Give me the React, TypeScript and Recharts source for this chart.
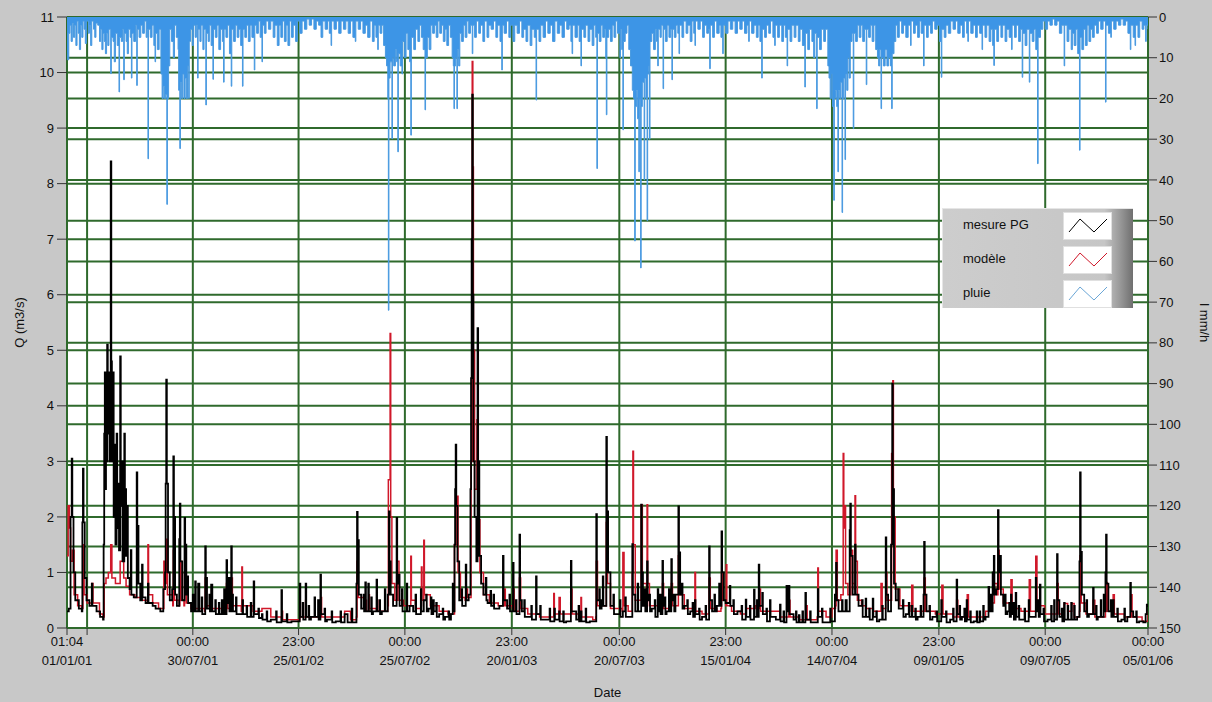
import { ComposedChart, Line, Area, XAxis, YAxis, CartesianGrid, Legend } from "recharts"

// x axis is in days since 01/01/01 01:04
const xTicks = [0, 34, 213, 392, 572, 753, 935, 1115, 1295, 1476, 1656, 1830]
const xTimes = ["01:04", "", "00:00", "23:00", "00:00", "23:00", "00:00", "23:00", "00:00", "23:00", "00:00", "00:00"]
const xDates = ["01/01/01", "", "30/07/01", "25/01/02", "25/07/02", "20/01/03", "20/07/03", "15/01/04", "14/07/04", "09/01/05", "09/07/05", "05/01/06"]
const qTicks = [0, 1, 2, 3, 4, 5, 6, 7, 8, 9, 10, 11]
const iTicks = [0, 10, 20, 30, 40, 50, 60, 70, 80, 90, 100, 110, 120, 130, 140, 150]

// débit mesuré (m3/s)
const mesurePG: [number, number][] = [
  [0, 0.3], [3, 0.35], [6, 2.0], [8, 3.05], [9, 2.0], [11, 1.0], [14, 0.5], [20, 0.35], [25, 0.3], [26, 1.9], [27, 2.87], [28, 1.9], [30, 0.9], [33, 0.5], [38, 0.4], [42, 0.8], [43, 0.4], [50, 0.3], [56, 0.2], [61, 0.15],
  [62, 1.5], [63, 3.5], [64, 4.6], [65, 2.5], [66, 4.6], [67, 3.0], [68, 5.1], [69, 3.5], [71, 4.6], [72, 3.0], [74, 8.4], [75, 4.8], [76, 3.0], [78, 4.6], [79, 2.0], [81, 3.3], [82, 1.5], [84, 3.5], [85, 1.8], [87, 2.6], [88, 1.4], [90, 4.89], [91, 2.2], [93, 3.0], [94, 1.2], [97, 3.5], [98, 2.5], [100, 1.3], [102, 2.2], [103, 0.9],
  [106, 0.7], [108, 1.4], [109, 0.6], [113, 0.55], [118, 2.8], [119, 1.84], [121, 0.8], [124, 0.5], [127, 1.14], [128, 0.55], [133, 0.45], [137, 0.8], [138, 0.45], [145, 0.4], [150, 0.35], [158, 0.3], [163, 0.7], [166, 1.0], [167, 2.6], [168, 4.47], [169, 2.6], [171, 1.0], [174, 0.5], [178, 0.7], [180, 3.09], [181, 2.0], [183, 0.6], [186, 0.4], [190, 1.6], [191, 2.24], [192, 1.2], [195, 0.5], [199, 1.98], [200, 1.5], [202, 0.6], [204, 0.93], [205, 0.45], [210, 0.3], [213, 0.6], [214, 0.3], [217, 0.84], [218, 0.3], [222, 0.8], [224, 0.3], [228, 0.55], [229, 0.25], [234, 1.47], [235, 0.9], [237, 0.35], [241, 0.6], [242, 0.3], [244, 0.78], [246, 0.3], [251, 0.5], [252, 0.25], [257, 0.45], [258, 0.25], [262, 0.5], [263, 0.25], [266, 0.7], [267, 0.25], [270, 1.22], [271, 0.45], [274, 0.9], [275, 0.3], [278, 1.47], [279, 0.6], [281, 0.3], [286, 0.55], [287, 0.25], [290, 0.25], [297, 0.5], [298, 0.25], [304, 0.4], [305, 0.2], [311, 0.45], [312, 0.2], [316, 0.84], [317, 0.25], [324, 0.35], [325, 0.18], [330, 0.25], [331, 0.15], [338, 0.3], [339, 0.12], [345, 0.15], [354, 0.3], [355, 0.1], [363, 0.68], [364, 0.12], [372, 0.25], [373, 0.1], [380, 0.12],
  [394, 0.8], [395, 0.2], [399, 0.45], [400, 0.15], [404, 0.8], [405, 0.2], [409, 0.4], [410, 0.15], [413, 0.2], [419, 0.55], [420, 0.2], [425, 0.5], [426, 0.15], [429, 0.96], [430, 0.25], [436, 0.35], [437, 0.12], [440, 0.15], [448, 0.3], [449, 0.1], [455, 0.12], [463, 0.3], [464, 0.1], [470, 0.25], [475, 0.1], [482, 0.35], [483, 0.1], [490, 0.8], [491, 2.09], [492, 1.58], [494, 0.6], [498, 0.35], [502, 0.6], [503, 0.3], [505, 0.82], [506, 0.3], [510, 0.8], [511, 0.3], [515, 0.55], [516, 0.25], [518, 0.3], [524, 0.87], [525, 0.3], [529, 0.5], [530, 0.25], [533, 0.3], [538, 0.7], [539, 0.3], [543, 0.6], [545, 2.1], [546, 1.2], [548, 0.6], [552, 0.4], [558, 1.98], [559, 0.8], [561, 0.96], [563, 0.4], [567, 0.7], [568, 0.3], [570, 0.3], [575, 0.8], [576, 0.3], [580, 0.4], [586, 0.3], [590, 0.6], [591, 0.25], [595, 0.25], [599, 0.7], [600, 0.3],
  [604, 0.5], [608, 0.6], [609, 0.3], [612, 0.35], [616, 0.55], [617, 0.25], [620, 0.5], [621, 0.3], [625, 0.45], [626, 0.2], [630, 0.25], [636, 0.35], [637, 0.15], [640, 0.2], [646, 0.3], [647, 0.15], [650, 0.25], [653, 0.8], [654, 0.3], [656, 1.5], [657, 2.5], [658, 3.3], [659, 2.2], [661, 1.2], [664, 0.5], [668, 0.7], [669, 0.4], [672, 0.4], [675, 1.14], [676, 0.5], [680, 0.6], [683, 2.5], [684, 4.5], [685, 7.0], [686, 9.6], [687, 6.0], [688, 3.0], [690, 2.0], [693, 1.2], [695, 5.4], [696, 3.0], [698, 1.3], [701, 0.8], [705, 0.6], [709, 0.9], [710, 0.5], [712, 0.45], [717, 0.67], [718, 0.4], [722, 0.6], [723, 0.35], [725, 0.35], [732, 0.4], [738, 1.3], [739, 0.5], [745, 0.35], [749, 0.6], [750, 0.3], [755, 1.17], [756, 0.3], [760, 0.5], [761, 0.25], [766, 1.68], [767, 0.5], [770, 0.3], [774, 0.5], [775, 0.2], [780, 0.2], [786, 0.4], [787, 0.15], [794, 0.93], [795, 0.25], [801, 0.4], [802, 0.15], [810, 0.15], [817, 0.35], [818, 0.12], [825, 0.35], [826, 0.15], [833, 0.3], [834, 0.12], [840, 0.3], [841, 0.1], [845, 0.12], [853, 1.21], [854, 0.3], [862, 0.15], [866, 0.4], [867, 0.12], [870, 0.3], [871, 0.12], [878, 0.35], [879, 0.1], [885, 0.12],
  [896, 2.05], [897, 0.5], [901, 0.7], [902, 0.35], [905, 0.5], [907, 0.93], [908, 0.4], [913, 3.44], [914, 2.1], [916, 1.0], [920, 0.4], [925, 0.6], [926, 0.25], [930, 0.25], [936, 0.5], [937, 0.2], [941, 0.3], [945, 0.55], [946, 0.2], [950, 0.2], [957, 1.51], [958, 0.6], [962, 0.3], [966, 0.8], [967, 0.3], [972, 2.22], [973, 1.0], [975, 0.4], [978, 0.7], [979, 0.3], [982, 1.2], [983, 0.5], [986, 0.6], [987, 0.3], [990, 0.35], [995, 0.5], [996, 0.2], [1000, 0.7], [1001, 0.3], [1004, 0.6], [1005, 0.25], [1008, 1.21], [1009, 0.4], [1012, 0.55], [1013, 0.25], [1015, 0.3], [1019, 0.7], [1020, 0.3], [1023, 1.24], [1024, 0.5], [1027, 0.6], [1028, 0.3], [1030, 0.6], [1035, 2.19], [1036, 1.36], [1038, 0.6], [1041, 0.8], [1042, 0.35], [1045, 0.4], [1050, 0.5], [1051, 0.25], [1055, 0.3], [1059, 0.45], [1060, 0.2], [1063, 0.5], [1064, 0.25], [1070, 0.35], [1071, 0.15], [1075, 0.2], [1081, 0.4], [1082, 0.15], [1087, 1.47], [1088, 0.5], [1092, 0.3], [1096, 0.6], [1097, 0.3], [1100, 0.4], [1104, 0.8], [1105, 0.4], [1108, 1.74], [1109, 1.0], [1112, 0.5], [1115, 0.45], [1122, 0.76], [1123, 0.4], [1128, 0.5], [1129, 0.25], [1135, 0.3], [1142, 0.4], [1143, 0.15], [1149, 0.51], [1150, 0.2], [1156, 0.4], [1157, 0.15], [1163, 0.69], [1164, 0.2], [1168, 0.5], [1169, 0.2], [1171, 1.14], [1172, 0.4], [1177, 0.63], [1178, 0.25], [1184, 0.35], [1185, 0.12], [1190, 0.5], [1191, 0.2], [1200, 0.15], [1207, 0.42], [1208, 0.12],
  [1213, 0.3], [1214, 0.1], [1218, 0.76], [1219, 0.3], [1222, 0.76], [1223, 0.25], [1230, 0.15], [1234, 0.3], [1235, 0.1], [1239, 0.23], [1240, 0.1], [1245, 0.3], [1246, 0.1], [1250, 0.63], [1251, 0.15], [1258, 0.3], [1259, 0.1], [1265, 0.1], [1271, 0.7], [1272, 0.2], [1278, 0.35], [1279, 0.1], [1285, 0.1], [1292, 0.35], [1293, 0.12], [1300, 0.6], [1302, 1.17], [1303, 0.5], [1306, 0.3], [1312, 0.5], [1313, 0.3], [1318, 0.5], [1320, 0.3], [1325, 1.76], [1326, 2.24], [1327, 1.3], [1330, 0.6], [1334, 1.5], [1335, 0.6], [1340, 0.4], [1346, 0.5], [1347, 0.2], [1352, 0.53], [1353, 0.2], [1358, 0.35], [1359, 0.15], [1364, 0.53], [1365, 0.2], [1370, 0.3], [1371, 0.12], [1375, 0.15], [1380, 0.4], [1381, 0.15], [1386, 1.63], [1387, 0.6], [1390, 0.3], [1395, 1.5], [1397, 4.4], [1398, 2.5], [1400, 0.8], [1403, 0.5], [1407, 0.7], [1408, 0.35], [1410, 0.35], [1415, 0.5], [1416, 0.2], [1420, 0.25], [1425, 0.45], [1426, 0.2], [1430, 0.4], [1431, 0.2], [1436, 0.35], [1437, 0.15], [1440, 0.2], [1445, 0.4], [1446, 0.2], [1450, 0.6], [1451, 1.55], [1452, 0.6], [1455, 0.3], [1460, 0.4], [1461, 0.15], [1465, 0.2], [1472, 0.3], [1473, 0.12], [1480, 0.5], [1481, 0.2], [1488, 0.3], [1489, 0.1], [1495, 0.15],
  [1500, 0.35], [1501, 0.12], [1506, 0.87], [1507, 0.25], [1511, 0.4], [1512, 0.15], [1515, 0.2], [1519, 0.35], [1520, 0.12], [1523, 0.5], [1524, 0.15], [1529, 0.3], [1530, 0.1], [1535, 0.12], [1540, 0.3], [1541, 0.1], [1545, 0.3], [1546, 0.12], [1551, 0.4], [1552, 0.15], [1555, 0.2], [1560, 0.74], [1561, 0.3], [1564, 0.6], [1565, 0.3], [1567, 1.0], [1569, 1.3], [1570, 0.6], [1573, 0.7], [1576, 2.12], [1577, 1.0], [1580, 1.3], [1581, 0.6], [1585, 0.4], [1588, 0.6], [1589, 0.25], [1592, 0.3], [1595, 0.45], [1596, 0.2], [1598, 0.6], [1599, 0.25], [1602, 0.45], [1603, 0.15], [1606, 0.63], [1607, 0.2], [1611, 0.4], [1612, 0.15], [1615, 0.15], [1621, 0.35], [1622, 0.12], [1628, 0.5], [1629, 0.2], [1635, 0.2], [1640, 0.9], [1641, 0.3], [1644, 0.5], [1645, 0.2], [1647, 0.78], [1648, 0.25], [1653, 0.35], [1654, 0.12], [1660, 0.15], [1666, 0.4], [1667, 0.12], [1671, 0.5], [1672, 0.15], [1676, 1.33], [1677, 0.5], [1680, 0.2], [1684, 0.35], [1685, 0.12], [1688, 0.45], [1689, 0.15], [1694, 0.4], [1695, 0.15], [1700, 0.45], [1701, 0.15], [1705, 0.4], [1706, 0.15], [1710, 0.2], [1714, 1.2], [1715, 2.8], [1716, 1.37], [1718, 0.6], [1722, 0.3], [1726, 0.5], [1727, 0.2], [1730, 0.25], [1737, 0.72], [1738, 0.25], [1742, 0.4], [1743, 0.15], [1745, 0.2], [1750, 0.5], [1751, 0.2], [1755, 0.6], [1756, 0.3], [1758, 1.0], [1759, 1.68], [1760, 0.8], [1763, 0.3], [1767, 0.5], [1768, 0.2], [1771, 0.5], [1772, 0.2], [1778, 0.35], [1779, 0.12], [1785, 0.15], [1790, 0.35], [1791, 0.12], [1795, 0.2], [1800, 0.81], [1801, 0.3], [1805, 0.2], [1810, 0.3], [1811, 0.1], [1815, 0.12], [1822, 0.1], [1826, 0.25], [1828, 0.42], [1830, 0.38],
]

// débit simulé (m3/s)
const modele: [number, number][] = [
  [0, 1.3], [2, 2.2], [4, 1.8], [6, 1.2], [9, 1.4], [12, 0.6], [18, 0.4], [25, 0.35], [27, 1.5], [29, 0.6], [34, 0.45], [42, 0.8], [44, 0.45], [55, 0.25], [61, 0.2], [63, 0.8], [66, 0.9], [70, 1.0], [74, 1.5], [76, 0.9], [82, 0.8], [90, 1.2], [96, 0.9], [100, 0.75], [106, 0.6], [115, 0.55], [125, 0.5], [136, 0.45], [137, 1.5], [138, 0.6], [145, 0.45], [155, 0.35], [163, 0.35], [164, 1.2], [166, 0.8], [168, 1.6], [170, 0.6], [179, 0.4], [180, 1.4], [182, 0.5], [190, 0.4], [191, 1.2], [193, 0.5], [198, 0.4], [199, 1.0], [202, 0.45], [210, 0.35], [233, 0.3], [234, 0.9], [236, 0.4], [245, 0.35], [269, 0.3], [270, 0.8], [272, 0.35], [277, 0.3], [278, 0.9], [280, 0.4], [295, 0.3], [296, 1.1], [297, 0.4], [315, 0.3], [316, 0.5], [317, 0.3], [330, 0.35], [345, 0.2], [363, 0.15], [364, 0.3], [365, 0.15], [380, 0.15],
  [393, 0.15], [394, 0.45], [395, 0.2], [403, 0.2], [404, 0.5], [405, 0.2], [420, 0.2], [429, 0.2], [430, 0.55], [431, 0.2], [440, 0.2], [470, 0.3], [480, 0.15], [490, 0.2], [491, 1.2], [493, 0.55], [505, 0.3], [506, 0.5], [507, 0.3], [511, 0.6], [512, 0.35], [524, 0.3], [525, 0.5], [526, 0.3], [535, 0.3], [543, 0.4], [544, 2.67], [547, 5.3], [548, 2.0], [550, 0.8], [555, 0.5], [558, 0.5], [559, 1.2], [562, 0.5], [570, 0.4], [581, 0.4], [582, 1.29], [583, 0.5], [590, 0.35], [599, 0.4], [600, 1.1], [601, 0.5], [604, 1.58], [605, 0.6], [615, 0.4], [630, 0.3], [645, 0.25], [656, 1.5], [660, 2.37], [662, 1.0], [666, 0.55], [674, 0.5], [675, 0.7], [678, 0.55], [684, 3.0], [686, 10.2], [687, 8.3], [688, 5.0], [690, 2.5], [694, 3.75], [696, 1.95], [699, 1.0], [705, 0.6], [715, 0.45], [730, 0.4], [739, 0.4], [740, 0.7], [742, 0.4], [754, 0.35], [755, 0.7], [757, 0.3], [765, 0.3], [766, 0.9], [768, 0.35], [780, 0.25], [800, 0.2], [823, 0.2], [824, 0.62], [825, 0.25], [832, 0.25], [833, 0.55], [835, 0.25], [852, 0.25], [853, 0.7], [855, 0.25], [869, 0.2], [870, 0.55], [871, 0.2], [890, 0.15],
  [895, 0.2], [896, 1.2], [898, 0.4], [912, 0.4], [913, 1.9], [915, 0.8], [920, 0.35], [940, 0.3], [941, 1.36], [943, 0.4], [950, 0.3], [957, 1.0], [958, 3.18], [959, 1.5], [962, 0.5], [971, 0.5], [972, 2.22], [974, 0.8], [981, 0.6], [982, 2.22], [983, 0.8], [986, 0.4], [1000, 0.4], [1007, 0.35], [1008, 0.8], [1010, 0.35], [1022, 0.4], [1023, 0.8], [1025, 0.4], [1034, 0.4], [1035, 1.3], [1037, 0.6], [1045, 0.35], [1062, 0.3], [1063, 1.0], [1064, 0.3], [1075, 0.25], [1086, 0.25], [1087, 0.9], [1089, 0.35], [1100, 0.3], [1107, 0.35], [1108, 1.0], [1110, 0.5], [1115, 0.4], [1116, 1.14], [1117, 0.4], [1125, 0.3], [1140, 0.25], [1150, 0.35], [1165, 0.4], [1171, 0.35], [1172, 0.7], [1174, 0.3], [1190, 0.3], [1207, 0.2], [1221, 0.2], [1222, 0.5], [1224, 0.2], [1240, 0.15], [1250, 0.15], [1251, 0.4], [1253, 0.15], [1270, 0.2], [1271, 1.08], [1272, 0.3], [1285, 0.2], [1295, 0.35],
  [1301, 0.4], [1302, 1.4], [1304, 0.5], [1310, 0.6], [1313, 0.6], [1314, 3.14], [1315, 1.8], [1316, 2.2], [1318, 0.8], [1322, 0.6], [1326, 0.6], [1327, 1.4], [1330, 0.8], [1333, 0.7], [1334, 2.38], [1335, 1.2], [1338, 0.5], [1345, 0.4], [1353, 0.35], [1365, 0.3], [1377, 0.3], [1378, 0.8], [1380, 0.35], [1385, 0.35], [1386, 1.0], [1388, 0.5], [1395, 0.5], [1396, 3.14], [1398, 4.45], [1399, 2.0], [1402, 0.7], [1410, 0.4], [1429, 0.3], [1430, 0.77], [1432, 0.3], [1450, 0.3], [1451, 0.9], [1453, 0.3], [1470, 0.25], [1480, 0.25], [1481, 0.77], [1483, 0.25], [1500, 0.2], [1505, 0.2], [1506, 0.5], [1508, 0.2], [1523, 0.2], [1524, 0.6], [1526, 0.2], [1545, 0.2], [1555, 0.3], [1562, 0.45], [1570, 0.8], [1575, 0.6], [1576, 1.4], [1578, 0.7], [1585, 0.45], [1597, 0.35], [1598, 0.87], [1600, 0.35], [1615, 0.3], [1628, 0.3], [1629, 0.87], [1631, 0.3], [1639, 0.3], [1640, 1.29], [1642, 0.4], [1655, 0.25], [1675, 0.25], [1676, 0.8], [1678, 0.25], [1687, 0.25], [1688, 0.44], [1694, 0.3], [1700, 0.3], [1701, 0.44], [1705, 0.2], [1714, 0.3], [1715, 1.3], [1717, 0.45], [1725, 0.25], [1736, 0.25], [1737, 0.5], [1740, 0.2], [1758, 0.3], [1759, 0.82], [1761, 0.3], [1770, 0.25], [1771, 0.6], [1773, 0.25], [1790, 0.2], [1800, 0.2], [1801, 0.6], [1803, 0.2], [1820, 0.12], [1830, 0.3],
]

// pluie (mm/h), axe de droite inversé
const pluie: [number, number][] = [
  [0, 9], [1, 10.5], [3, 4], [5, 2], [7, 6], [9, 1.5], [11, 5], [13, 2], [15, 7], [17, 1], [19, 4], [21, 8], [23, 2], [25, 5], [27, 1], [29, 3], [31, 6.5], [33, 1], [36, 4], [38, 2], [40, 7], [42, 1], [45, 3], [47, 5], [49, 1.5], [52, 2], [55, 6], [57, 3], [59, 8], [61, 4], [63, 6], [65, 9], [67, 4], [69, 7], [71, 3], [74, 13.9], [75, 5], [78, 6], [80, 11], [82, 4], [85, 7], [88, 18.4], [89, 5], [92, 6], [94, 3], [96, 15.4], [97, 4], [100, 6], [102, 9], [104, 3], [107, 5], [109, 15], [110, 4], [113, 6], [116, 2], [118, 16.8], [119, 3], [122, 5], [125, 2], [128, 4], [131, 1], [134, 5],
  [136, 3], [137, 34.8], [138, 3], [141, 5], [144, 2], [147, 7], [149, 11], [150, 4], [153, 8], [156, 3], [159, 14], [161, 20], [163, 17], [165, 20], [167, 19], [169, 46], [170, 20], [172, 12], [174, 3], [177, 6], [180, 10], [182, 2], [185, 5], [188, 8], [189, 18], [191, 32.3], [192, 16], [194, 20], [196, 14], [198, 20], [200, 15], [202, 20], [204, 12], [206, 20], [207, 6], [209, 3],
  [212, 7], [214, 2], [217, 5], [219, 2], [221, 15], [222, 3], [225, 6], [227, 2], [230, 8], [232, 3], [235, 21.6], [236, 4], [239, 6], [241, 2], [244, 7], [247, 15.3], [248, 3], [251, 5], [254, 2], [257, 8], [260, 3], [263, 6], [265, 16], [266, 3], [269, 5], [272, 2], [275, 9], [278, 17], [279, 3], [282, 6], [285, 2], [288, 5], [291, 3], [294, 7], [297, 17], [298, 3], [301, 5], [304, 2], [307, 6], [310, 2], [313, 5], [317, 13], [318, 2], [321, 4], [324, 1], [327, 5], [330, 11], [331, 2], [334, 4], [337, 1],
  [341, 3], [345, 1], [349, 5], [352, 2], [356, 7], [359, 2], [362, 5], [365, 1], [368, 6], [371, 2], [374, 7], [377, 1], [380, 5], [383, 2], [387, 6], [390, 1], [394, 4], [398, 1], [402, 3], [406, 0.5], [410, 2], [414, 0.5], [418, 3], [422, 1], [426, 2], [430, 5], [433, 1], [437, 3], [441, 1], [444, 4], [447, 7], [448, 1], [452, 3], [456, 1], [460, 4], [464, 1], [468, 3], [472, 1], [476, 4], [480, 1], [484, 5], [488, 6], [489, 1], [493, 3], [497, 1], [501, 4], [505, 2], [509, 5], [513, 1], [517, 6], [520, 2], [523, 5], [526, 8], [527, 2], [530, 4], [533, 2], [536, 7], [539, 10],
  [541, 12], [543, 20], [544, 72], [545, 15], [547, 11], [550, 29.9], [551, 10], [553, 12], [556, 8], [558, 11], [560, 33.1], [561, 9], [564, 12], [567, 14], [568, 6], [571, 10], [574, 4], [577, 8], [580, 11], [582, 29], [583, 5], [587, 8], [590, 3], [594, 6], [597, 2], [600, 5], [603, 8], [606, 22.8], [607, 10], [610, 5], [613, 8], [616, 2], [619, 4],
  [622, 2], [625, 5], [628, 1], [631, 4], [634, 2], [637, 6], [640, 3], [643, 7], [646, 2], [649, 5], [652, 10], [654, 12], [655, 22.5], [656, 12], [658, 10], [660, 22.5], [661, 8], [663, 12], [665, 4], [668, 6], [671, 2], [674, 5], [677, 1], [680, 4], [683, 2], [686, 9], [687, 2], [690, 5], [693, 1], [697, 4], [700, 2], [704, 6], [707, 1], [711, 5], [714, 2], [718, 3], [722, 1], [726, 5], [729, 2], [733, 6], [736, 13], [737, 2], [740, 4], [744, 1], [748, 5], [751, 2], [755, 6], [758, 2], [762, 4], [766, 1], [770, 5], [773, 3], [777, 6], [780, 2], [784, 7], [787, 3], [791, 5], [794, 20.4], [795, 3], [799, 6], [802, 2], [806, 5], [810, 1], [814, 4], [818, 2], [822, 6], [826, 1], [830, 4], [834, 2], [838, 5], [842, 1], [846, 3], [850, 2], [853, 6], [855, 9], [856, 2], [860, 5], [864, 2], [867, 6], [870, 12], [871, 3], [875, 5], [878, 2], [882, 6], [885, 3], [889, 7], [892, 2], [895, 5], [897, 37.2], [898, 4], [901, 6], [904, 2], [907, 5], [910, 3], [912, 10], [913, 24], [914, 5],
  [917, 3], [920, 6], [923, 2], [926, 5], [929, 1], [932, 4], [936, 10], [937, 3], [939, 8], [941, 27.7], [942, 6], [945, 4], [948, 2], [951, 8], [954, 12], [957, 18], [959, 20], [961, 55], [962, 22], [964, 18], [966, 25], [968, 38], [969, 20], [971, 61.6], [972, 22], [974, 16], [977, 40], [978, 15], [980, 20], [982, 50], [983, 14], [985, 12], [986, 30], [987, 6], [990, 4], [993, 8], [996, 3], [998, 6], [1000, 12], [1001, 3], [1004, 5], [1006, 2], [1009, 17.6], [1010, 3], [1013, 6], [1016, 2], [1019, 5], [1022, 3], [1024, 15.4], [1025, 3], [1028, 5], [1031, 2], [1034, 4], [1036, 9], [1037, 2], [1041, 5], [1044, 1], [1048, 4], [1051, 2], [1055, 6], [1058, 1], [1061, 4], [1063, 7], [1064, 1], [1068, 3], [1072, 1], [1076, 5], [1079, 2], [1083, 4], [1086, 3], [1088, 12.7], [1089, 2], [1093, 5], [1096, 1], [1100, 4], [1104, 2], [1107, 5], [1110, 9], [1111, 2], [1115, 4], [1119, 1], [1123, 3], [1127, 1], [1131, 4], [1135, 1], [1139, 3], [1143, 1], [1147, 4], [1151, 2], [1154, 6], [1155, 1], [1159, 4], [1163, 2], [1167, 5], [1170, 2], [1173, 6], [1176, 15], [1177, 3], [1181, 5], [1184, 2], [1188, 4], [1191, 1], [1195, 5], [1198, 7], [1199, 2], [1203, 5], [1206, 2], [1210, 6], [1213, 2], [1216, 5], [1219, 12], [1220, 3], [1224, 6], [1227, 2], [1231, 5], [1234, 2], [1238, 6], [1241, 3], [1245, 7], [1249, 17.2], [1250, 4], [1254, 8], [1257, 3], [1261, 6], [1264, 10], [1266, 4], [1269, 22.5], [1270, 5], [1274, 8], [1277, 3], [1281, 6], [1284, 3], [1288, 12], [1290, 15], [1292, 20], [1294, 14], [1296, 22], [1298, 45], [1299, 20], [1301, 18], [1303, 22], [1305, 38], [1306, 18], [1308, 20], [1310, 16], [1312, 48], [1313, 20], [1315, 15], [1317, 35], [1318, 14], [1320, 18], [1322, 10], [1324, 15], [1326, 6], [1329, 4], [1331, 27.4], [1332, 4],
  [1335, 6], [1338, 2], [1341, 5], [1344, 2], [1347, 6], [1350, 3], [1353, 16.6], [1354, 3], [1357, 5], [1360, 2], [1363, 6], [1366, 2], [1369, 8], [1372, 10], [1374, 12], [1376, 8], [1378, 22.5], [1379, 10], [1382, 12], [1385, 8], [1388, 12], [1391, 10], [1394, 12], [1396, 22.5], [1397, 9], [1400, 6], [1403, 2], [1406, 5], [1409, 1], [1413, 4], [1416, 2], [1420, 5], [1424, 2], [1428, 7], [1429, 1], [1433, 4], [1436, 2], [1440, 5], [1443, 1], [1446, 4], [1450, 12], [1451, 2], [1455, 5], [1458, 2], [1462, 4], [1465, 1], [1469, 3], [1473, 2], [1477, 6], [1480, 14.8], [1481, 3], [1485, 5], [1488, 2], [1492, 4], [1496, 1], [1500, 3], [1504, 1], [1508, 4], [1512, 2], [1516, 5], [1519, 1], [1523, 4], [1525, 6], [1526, 1], [1530, 4], [1534, 2], [1538, 5], [1541, 2], [1545, 4], [1549, 8], [1550, 2], [1554, 5], [1557, 2], [1561, 6], [1564, 3], [1567, 7], [1569, 11.9], [1570, 3], [1574, 6], [1577, 2], [1581, 5], [1584, 2], [1588, 6], [1591, 3], [1595, 5], [1599, 8], [1600, 2], [1604, 5], [1607, 2], [1611, 6], [1614, 3], [1617, 14.8], [1618, 4], [1622, 7], [1625, 3], [1629, 16], [1630, 4], [1634, 6], [1637, 3], [1640, 8], [1643, 36], [1644, 5], [1648, 3], [1652, 1], [1656, 3], [1660, 1], [1664, 2], [1668, 0.5], [1672, 2], [1676, 1], [1680, 4], [1684, 2], [1688, 12], [1689, 2], [1693, 6], [1696, 3], [1700, 8], [1702, 4], [1705, 7], [1708, 3], [1711, 9], [1714, 32.7], [1715, 5], [1718, 8], [1721, 3], [1724, 7], [1727, 2], [1730, 6], [1733, 3], [1736, 5], [1739, 2], [1743, 4], [1746, 1], [1750, 3], [1754, 1], [1758, 20.9], [1759, 2], [1763, 4], [1767, 5], [1768, 1], [1772, 3], [1776, 1], [1780, 2], [1784, 0.5], [1788, 2], [1792, 1], [1796, 4], [1800, 8], [1801, 2], [1805, 5], [1808, 7], [1809, 2], [1813, 5], [1816, 1], [1820, 3], [1823, 2], [1826, 6], [1827, 2], [1830, 3],
]

const legendItems = [
  { name: "mesure PG", color: "#000000" },
  { name: "modèle", color: "#d0182a" },
  { name: "pluie", color: "#6aa6d6" },
]

const FONT = "'Liberation Sans', Arial, sans-serif"
const GRID = "#2f6a2c"

const mesureData = mesurePG.map(([d, q]) => ({ d, q }))
const modeleData = modele.map(([d, q]) => ({ d, q }))
const pluieData = pluie.map(([d, i]) => ({ d, i }))

function DateTick({ x, y, payload }: any) {
  const k = xTicks.indexOf(payload.value)
  return (
    <g transform={`translate(${x},${y})`}>
      <text textAnchor="middle" fontSize={13} fill="#111" fontFamily={FONT}>
        <tspan x={0} dy={9}>{xTimes[k]}</tspan>
        <tspan x={0} dy={19}>{xDates[k]}</tspan>
      </text>
    </g>
  )
}

function LegendBox() {
  return (
    <div
      style={{
        width: 191,
        height: 100,
        boxSizing: "border-box",
        borderTop: "1px solid #e6e6e6",
        borderLeft: "1px solid #e6e6e6",
        background: "linear-gradient(to right, #cdcdcd 0%, #c6c6c6 85%, #9a9a9a 93%, #6f6f6f 100%)",
        fontFamily: FONT,
        fontSize: 13,
        color: "#111",
        position: "relative",
      }}
    >
      {legendItems.map((it, k) => (
        <div key={it.name} style={{ position: "absolute", left: 0, top: 3 + k * 34, width: 191, height: 26 }}>
          <span style={{ position: "absolute", left: 20, top: 5 }}>{it.name}</span>
          <svg width={47} height={26} style={{ position: "absolute", left: 120, top: 0, background: "#fff", border: "1px solid #e0e0e0" }}>
            <polyline points="5,19 16,6 30,19 43,6" fill="none" stroke={it.color} strokeWidth={1} />
          </svg>
        </div>
      ))}
    </div>
  )
}

export default function App() {
  return (
    <div style={{ position: "absolute", left: 0, top: 0, width: 1212, height: 702, background: "#c8c8c8", fontFamily: FONT }}>
      <ComposedChart width={1212} height={702} margin={{ top: 17, right: 0, bottom: 0, left: 0 }}>
        <CartesianGrid yAxisId="left" stroke={GRID} strokeWidth={2} fill="#ffffff" fillOpacity={1} />
        <CartesianGrid yAxisId="right" stroke={GRID} strokeWidth={2} vertical={false} />
        <XAxis
          dataKey="d"
          type="number"
          domain={[0, 1830]}
          ticks={xTicks}
          allowDataOverflow
          height={74}
          tickSize={7}
          axisLine={false}
          tickLine={{ stroke: "#333" }}
          tick={<DateTick />}
          interval={0}
          label={{ value: "Date", position: "insideBottom", offset: 5, style: { fontSize: 13, fill: "#111", fontFamily: FONT } }}
        />
        <YAxis
          yAxisId="left"
          domain={[0, 11]}
          ticks={qTicks}
          width={67}
          tickSize={10}
          tickMargin={3}
          axisLine={false}
          tickLine={{ stroke: "#333" }}
          tick={{ fontSize: 13, fill: "#111", fontFamily: FONT }}
          interval={0}
          label={{ value: "Q (m3/s)", angle: -90, position: "insideLeft", offset: 19, style: { textAnchor: "middle", fontSize: 13, fill: "#111", fontFamily: FONT } }}
        />
        <YAxis
          yAxisId="right"
          orientation="right"
          reversed
          domain={[0, 150]}
          ticks={iTicks}
          width={64}
          tickSize={9}
          tickMargin={2}
          axisLine={false}
          tickLine={{ stroke: "#333" }}
          tick={{ fontSize: 13, fill: "#111", fontFamily: FONT }}
          interval={0}
          label={{ value: "I mm/h", angle: 90, position: "insideRight", offset: 7, style: { textAnchor: "middle", fontSize: 13, fill: "#111", fontFamily: FONT } }}
        />
        <Area
          yAxisId="right"
          data={pluieData}
          dataKey="i"
          name="pluie"
          type="stepAfter"
          stroke="#4a9ae0"
          strokeWidth={1}
          fill="#3d95e6"
          fillOpacity={1}
          isAnimationActive={false}
        />
        <Line yAxisId="left" data={modeleData} dataKey="q" name="modèle" type="stepAfter" stroke="#d0182a" strokeWidth={1.5} dot={false} isAnimationActive={false} />
        <Line yAxisId="left" data={mesureData} dataKey="q" name="mesure PG" type="stepAfter" stroke="#000000" strokeWidth={1.8} dot={false} isAnimationActive={false} />
        <Legend
          layout="vertical"
          align="center"
          verticalAlign="middle"
          content={<LegendBox />}
          wrapperStyle={{ left: 942, top: 208, width: 191, height: 100 }}
        />
      </ComposedChart>
    </div>
  )
}
